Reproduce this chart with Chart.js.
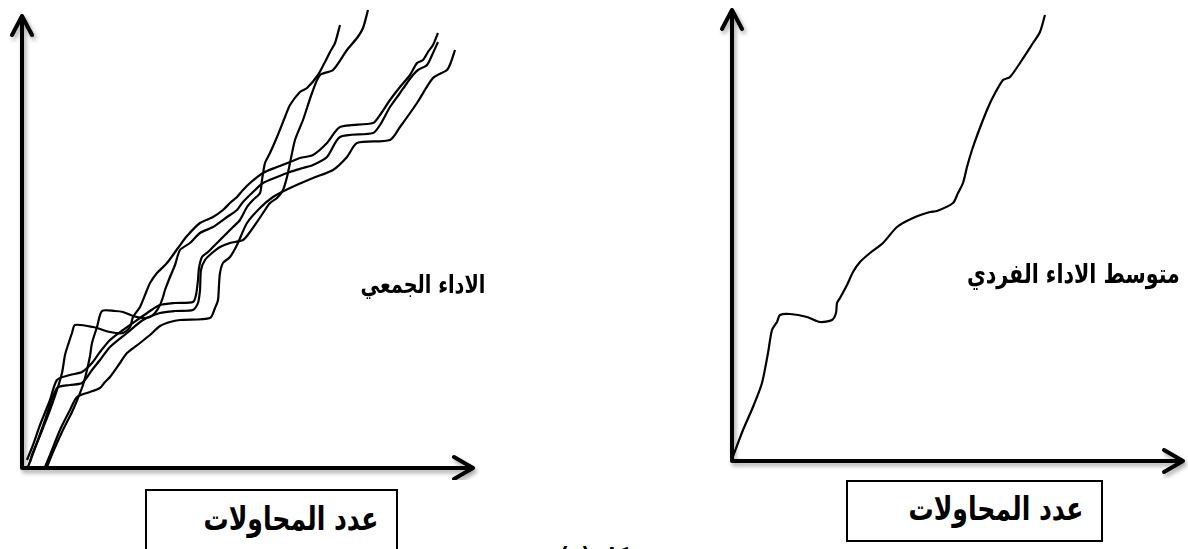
<!DOCTYPE html>
<html lang="ar">
<head>
<meta charset="utf-8">
<script src="https://cdn.jsdelivr.net/npm/chart.js@4.4.1/dist/chart.umd.min.js"></script>
<style>
html,body{margin:0;padding:0;background:#fff;width:1188px;height:549px;overflow:hidden;position:relative;}
canvas{position:absolute;}
.lbl{position:absolute;font-family:"DejaVu Sans",sans-serif;font-weight:bold;color:#000;white-space:nowrap;direction:rtl;line-height:1;transform-origin:right center;}
.box{position:absolute;border:2px solid #000;box-sizing:border-box;background:#fff;}
</style>
</head>
<body>
<canvas id="groupChart" width="500" height="480" style="left:0;top:0"></canvas>
<canvas id="meanChart" width="488" height="480" style="left:700px;top:0"></canvas>
<div class="box" style="left:145px;top:489px;width:253px;height:80px"></div>
<div class="box" style="left:846px;top:480px;width:257px;height:62px"></div>
<div class="lbl" id="lblGroup" dir="rtl">الاداء الجمعي</div>
<div class="lbl" id="lblMean" dir="rtl">متوسط الاداء الفردي</div>
<div class="lbl" id="lblAttL" dir="rtl">عدد المحاولات</div>
<div class="lbl" id="lblAttR" dir="rtl">عدد المحاولات</div>
<div class="lbl" id="lblFig" dir="rtl">شكل (١)</div>
<script>
// ---- data (x = attempts, y = performance, in reading units of the figure) ----
const groupAxisMax = [478, 468];
const meanAxisMax = [456, 461];
const axisTips = { group: [451, 452], mean: [451, 451] };

const groupRun1 = [[5,8],[11,23],[18,43],[28,68],[35,88],[48,93],[60,96],[70,105],[78,116],[88,128],[101,138],[118,150],[128,157],[138,163],[153,165],[171,166],[174,173],[176,188],[177,200],[180,211],[186,216],[191,221],[201,231],[211,241],[218,248],[225,261],[231,268],[238,275],[240,288],[243,305],[248,315],[255,331],[263,351],[268,363],[278,376],[285,380],[296,393],[303,406],[308,416],[313,425],[318,443]];
const groupRun2 = [[6,1],[13,20],[23,48],[35,80],[48,83],[60,85],[70,98],[78,108],[88,121],[105,135],[121,148],[138,155],[153,157],[171,158],[176,165],[178,178],[179,198],[183,208],[190,215],[198,221],[208,225],[221,228],[228,236],[235,246],[241,255],[248,265],[255,270],[261,278],[265,291],[268,305],[273,328],[281,348],[290,375],[298,393],[311,398],[325,418],[335,430],[341,440],[346,458]];
const groupRun3 = [[23,1],[28,13],[38,38],[48,58],[55,71],[68,76],[78,80],[83,86],[88,91],[98,105],[105,115],[118,125],[128,133],[138,142],[148,146],[158,148],[188,150],[193,160],[196,168],[197,183],[198,195],[201,205],[208,211],[215,223],[225,245],[238,260],[251,271],[268,280],[291,290],[311,298],[325,311],[335,325],[368,328],[378,341],[395,365],[411,390],[425,398],[429,406],[433,418]];
const groupRun4 = [[8,6],[10,13],[15,25],[21,40],[28,58],[35,78],[40,95],[43,113],[46,123],[50,135],[53,143],[71,141],[88,136],[101,135],[108,141],[111,151],[118,161],[125,178],[128,185],[135,195],[145,205],[156,220],[165,232],[178,245],[191,251],[201,258],[208,265],[215,271],[221,278],[228,285],[241,295],[255,301],[268,306],[278,310],[291,313],[305,325],[318,341],[351,345],[358,353],[368,368],[378,381],[388,393],[395,405],[401,408],[406,416],[411,423],[416,435]];
const groupRun5 = [[25,1],[31,16],[40,36],[50,56],[56,70],[61,83],[65,98],[68,112],[70,125],[75,141],[80,157],[93,157],[101,156],[111,152],[121,150],[128,151],[133,155],[138,163],[141,171],[143,178],[148,191],[153,203],[158,218],[168,225],[178,235],[191,241],[205,251],[215,258],[221,266],[231,276],[241,285],[255,291],[268,296],[281,300],[291,303],[305,311],[318,331],[351,335],[358,343],[368,361],[378,375],[385,385],[391,393],[396,398],[405,403],[411,415],[416,426]];
const meanIndividual = [[0,2],[11,31],[21,54],[30,78],[36,108],[40,131],[45,139],[48,146],[58,147],[75,144],[88,139],[100,141],[104,148],[105,158],[108,163],[115,176],[121,189],[128,199],[138,208],[151,218],[165,234],[181,243],[198,249],[205,250],[221,258],[226,268],[231,278],[235,294],[240,311],[246,328],[255,351],[261,364],[271,381],[278,384],[290,401],[301,418],[308,429],[313,446]];

const labels = {
  group: 'الاداء الجمعي',
  mean: 'متوسط الاداء الفردي',
  attempts: 'عدد المحاولات',
  figure: 'شكل (١)'
};

// ---- helpers ----
const axisArrows = {
  id: 'axisArrows',
  beforeDatasetsDraw(chart, args, opts) {
    const { ctx, scales: { x, y } } = chart;
    const ox = x.getPixelForValue(0), oy = y.getPixelForValue(0);
    const tx = x.getPixelForValue(opts.tip[0]), ty = y.getPixelForValue(opts.tip[1]);
    ctx.save();
    ctx.strokeStyle = '#000';
    ctx.lineWidth = 4;
    ctx.lineCap = 'round';
    ctx.lineJoin = 'round';
    ctx.shadowColor = 'rgba(0,0,0,0.35)';
    ctx.shadowBlur = 4;
    ctx.shadowOffsetX = 2;
    ctx.shadowOffsetY = 3;
    ctx.beginPath();
    ctx.moveTo(ox, ty); ctx.lineTo(ox, oy); ctx.lineTo(tx, oy);
    ctx.moveTo(ox - 10, ty + 19); ctx.lineTo(ox, ty); ctx.lineTo(ox + 10, ty + 19);
    ctx.moveTo(tx - 19, oy - 11); ctx.lineTo(tx, oy); ctx.lineTo(tx - 19, oy + 11);
    ctx.stroke();
    ctx.restore();
  }
};

function toPts(arr) { return arr.map(([x, y]) => ({ x, y })); }
function lineSet(arr) {
  return { data: toPts(arr), showLine: true, pointRadius: 0, borderColor: '#000', borderWidth: 2.2, tension: 0.25, clip: false, fill: false };
}
function makeChart(id, series, max, tip, pad) {
  return new Chart(document.getElementById(id), {
    type: 'scatter',
    data: { datasets: series.map(lineSet) },
    options: {
      responsive: false, animation: false, events: [],
      layout: { padding: pad },
      plugins: { legend: { display: false }, tooltip: { enabled: false }, axisArrows: { tip } },
      scales: {
        x: { type: 'linear', min: 0, max: max[0], display: false },
        y: { type: 'linear', min: 0, max: max[1], display: false }
      }
    },
    plugins: [axisArrows]
  });
}

makeChart('groupChart', [groupRun1, groupRun2, groupRun3, groupRun4, groupRun5], groupAxisMax, axisTips.group, { left: 22, top: 0, right: 0, bottom: 12 });
makeChart('meanChart', [meanIndividual], meanAxisMax, axisTips.mean, { left: 32, top: 0, right: 0, bottom: 19 });

const STRETCH = 1.3;
function place(id, text, rightEdge, width, cy) {
  const el = document.getElementById(id);
  el.textContent = text;
  el.style.fontSize = '20px';
  const w = el.getBoundingClientRect().width;
  const fs = 20 * width / w * STRETCH;
  el.style.fontSize = fs + 'px';
  el.style.transform = 'scaleX(' + (1 / STRETCH) + ')';
  el.style.right = (1188 - rightEdge) + 'px';
  el.style.top = (cy - 0.6 * fs) + 'px';
}
place('lblGroup', labels.group, 485, 125, 287);
place('lblMean', labels.mean, 1180, 213, 277);
place('lblAttL', labels.attempts, 378, 175, 523);
place('lblAttR', labels.attempts, 1083, 175, 513);
(function () {
  const el = document.getElementById('lblFig');
  el.textContent = labels.figure;
  el.style.fontSize = '24px';
  el.style.transform = 'scaleX(0.85)';
  el.style.right = (1188 - 648) + 'px';
  el.style.top = '545px';
})();
</script>
</body>
</html>
